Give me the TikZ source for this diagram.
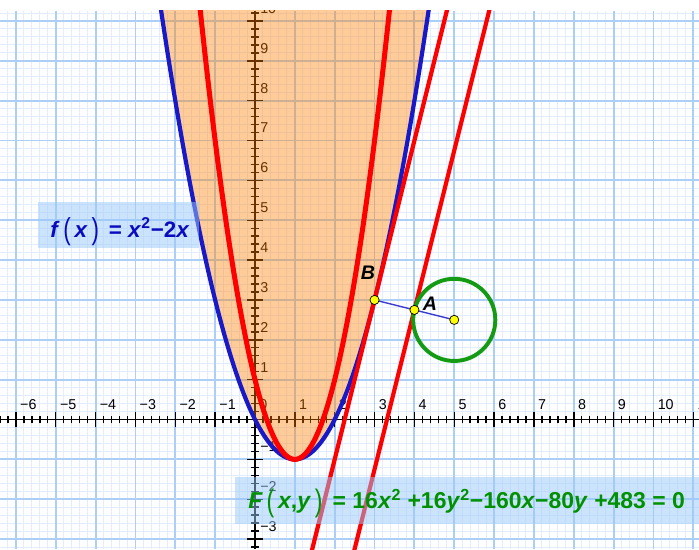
\documentclass[tikz,border=0pt]{standalone}
\usepackage{fontspec}
\setmainfont{Liberation Sans}
\usepackage{graphicx}
\definecolor{mingrid}{RGB}{226,238,255}
\definecolor{majgrid}{RGB}{172,207,248}
\definecolor{geoorange}{RGB}{255,128,0}
\definecolor{geoblue}{RGB}{25,25,200}
\definecolor{geored}{RGB}{255,0,0}
\definecolor{geogreen}{RGB}{20,155,20}
\definecolor{txtgreen}{RGB}{0,145,0}
\definecolor{txtblue}{RGB}{10,10,190}
\definecolor{boxblue}{RGB}{155,200,250}
\definecolor{ptyellow}{RGB}{255,255,0}
\newcommand\bigp[1]{\raisebox{-0.2ex}{\scalebox{1}[1.35]{\mdseries #1}}}
\newcommand\axlab[1]{\ifnum#1<0 −\number\numexpr-#1\relax\else#1\fi}
\begin{document}
\begin{tikzpicture}[x=1cm,y=1cm,
  minorline/.style={mingrid,line width=0.7pt},
  majorline/.style={majgrid,line width=1.3pt},
  axisline/.style={black,line width=1.3pt},
  tickline/.style={black,line width=1pt},
  axislabel/.style={inner sep=0pt,font=\fontsize{10.2}{12}\selectfont,anchor=base west},
  blueparab/.style={geoblue,line width=3pt},
  thinblue/.style={geoblue,line width=0.7pt},
  redcurve/.style={geored,line width=3.6pt},
  redline/.style={geored,line width=3pt},
  greencirc/.style={geogreen,line width=2.8pt},
  seg/.style={geoblue!85!white,line width=1pt},
  pt/.style={circle,fill=ptyellow,draw=black,line width=0.5pt,inner sep=0pt,minimum size=0.23cm},
  eqbox/.style={fill=boxblue,fill opacity=0.5,draw=none},
  ptlabel/.style={inner sep=0pt,font=\fontsize{14}{16}\selectfont\bfseries\itshape}
]
\def\xL{-6.399}\def\xR{11.142}\def\yB{-3.250}\def\yT{10.527}\def\yG{10.26}
\useasboundingbox (\xL,\yB) rectangle (\xR,\yT);
\fill[white] (\xL,\yB) rectangle (\xR,\yT);
\begin{scope}
\clip (\xL,\yB) rectangle (\xR,\yG);
% grid
\draw[minorline] (\xL,\yB) grid[step=0.2] (\xR,\yG);
\draw[majorline] (\xL,\yB) grid[step=1] (\xR,\yG);
% axes
\draw[axisline] (\xL,0) -- (\xR,0);
\draw[axisline] (0,\yB) -- (0,\yG);
\foreach \i in {-32,...,56}{
  \draw[tickline] ({\i*0.2},-0.1) -- ({\i*0.2},0.1);
}
\foreach \i in {-17,...,52}{
  \draw[tickline] (-0.1,{\i*0.2}) -- (0.1,{\i*0.2});
}
\foreach \k in {-6,...,11}{
  \draw[tickline] (\k,-0.2) -- (\k,0.2);
  \node[axislabel] at (\k+0.1,0.24) {\axlab{\k}};
}
\foreach \k in {-3,-2,-1,1,2,3,4,5,6,7,8,9,10}{
  \draw[tickline] (-0.2,\k) -- (0.2,\k);
  \node[axislabel] at (0.125,\k+0.19) {\axlab{\k}};
}
% shaded region y >= x^2-2x
\fill[geoorange,fill opacity=0.4] plot[domain=-2.6:4.6,samples=120,smooth] (\x,{\x*\x-2*\x}) -- cycle;
% curves
\draw[blueparab] plot[domain=-2.6:4.6,samples=160,smooth] (\x,{\x*\x-2*\x});
\draw[thinblue] plot[samples at={-2.5,-2,...,4.5}] (\x,{\x*\x-2*\x});
\draw[redcurve] plot[domain=-1.5:3.5,samples=140,smooth] (\x,{2*(\x-1)*(\x-1)-1});
\coordinate (B) at (3,3);
\coordinate (A) at (4,2.75);
\coordinate (C) at (5,2.5);
\coordinate (t1a) at (1.3,-3.8);
\coordinate (t1b) at (5,11);
\coordinate (t2a) at (2.4,-3.65);
\coordinate (t2b) at (6.1,11.15);
\draw[redline] (t1a) -- (t1b);
\draw[redline] (t2a) -- (t2b);
\draw[greencirc] (C) circle[radius=1.0308];
\draw[seg] (B) -- (C);
\node[pt] (pB) at (B) {};
\node[pt] (pA) at (A) {};
\node[pt] (pC) at (C) {};
% equation boxes
\fill[eqbox] (-5.445,4.296) rectangle (-1.405,5.465);
\fill[eqbox] (-0.502,-2.622) rectangle (\xR,-1.450);
\node[inner sep=0pt,anchor=west,text=txtblue,font=\fontsize{16}{18}\selectfont\bfseries] (ftext) at (-5.144,4.713)
  {\textit{f}\,\bigp{(}\,\textit{x}\,\bigp{)}\, = \textit{x}\textsuperscript{2}−2\textit{x}};
\node[inner sep=0pt,anchor=west,text=txtgreen,font=\fontsize{16.4}{18}\selectfont\bfseries] (Ftext) at (-0.176,-2.103)
  {\textit{F}\,\bigp{(}\,\textit{x},\textit{y}\,\bigp{)}\, = 16\textit{x}\textsuperscript{2} +16\textit{y}\textsuperscript{2}−160\textit{x}−80\textit{y} +483 = 0};
\node[ptlabel] (lB) at (2.836,3.676) {B};
\node[ptlabel] (lA) at (4.391,2.911) {A};
\end{scope}
\end{tikzpicture}
\end{document}
